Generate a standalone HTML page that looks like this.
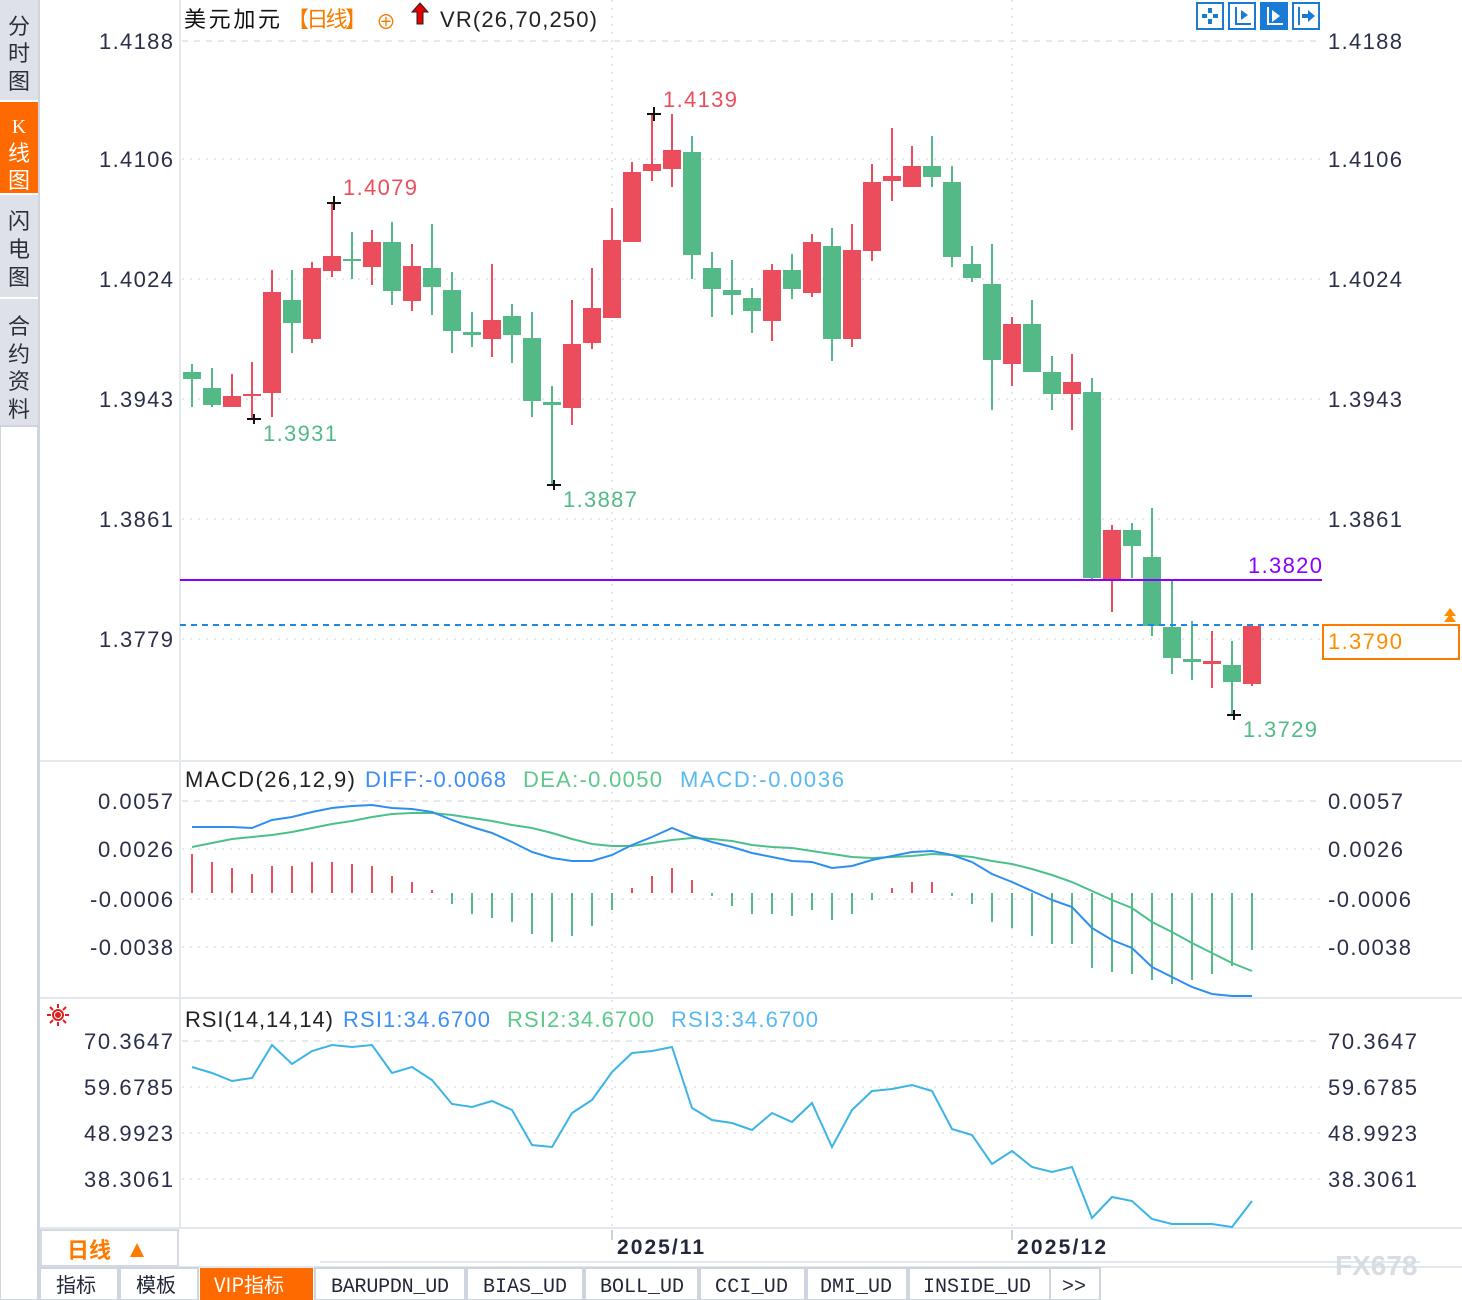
<!DOCTYPE html>
<html><head><meta charset="utf-8">
<style>
html,body{margin:0;padding:0;background:#fff;}
svg{display:block;font-family:"Liberation Sans","Noto Sans CJK SC",sans-serif;}
</style></head>
<body>
<svg id="s" width="1462" height="1300" viewBox="0 0 1462 1300" xmlns="http://www.w3.org/2000/svg">
<rect width="1462" height="1300" fill="#fff"/>
<rect x="0" y="0" width="38" height="1300" fill="#fff"/>
<rect x="0" y="0" width="38" height="100" fill="#dfe1e8"/>
<rect x="0" y="102" width="38" height="91" fill="#ff6a00"/>
<rect x="0" y="195" width="38" height="102" fill="#dfe1e8"/>
<rect x="0" y="299" width="38" height="127" fill="#dfe1e8"/>
<rect x="0" y="426" width="38" height="874" fill="#fff" stroke="#cfd5de" stroke-width="2"/>
<line x1="39" y1="0" x2="39" y2="1300" stroke="#cfd5de" stroke-width="2"/>
<g font-size="22" fill="#2b2f3a" text-anchor="middle" font-family="'Noto Sans CJK SC',sans-serif">
<text x="19" y="34">分</text><text x="19" y="61">时</text><text x="19" y="89">图</text>
<text x="19" y="133" fill="#fff" font-family="'Liberation Serif',serif" font-size="20">K</text><text x="19" y="161" fill="#fff">线</text><text x="19" y="188" fill="#fff">图</text>
<text x="19" y="229">闪</text><text x="19" y="257">电</text><text x="19" y="285">图</text>
<text x="19" y="334">合</text><text x="19" y="362">约</text><text x="19" y="389">资</text><text x="19" y="417">料</text>
</g>
<g stroke="#e3e7ee" stroke-width="2" fill="none">
<line x1="180" y1="0" x2="180" y2="1228"/>
<line x1="40" y1="761" x2="1462" y2="761"/>
<line x1="40" y1="998" x2="1462" y2="998"/>
<line x1="40" y1="1228" x2="1462" y2="1228"/>
<line x1="40" y1="1267" x2="1462" y2="1267"/>
</g>
<g id="grid" stroke="#e6e8ec" stroke-width="2" stroke-dasharray="2,6"></g>
<g id="plot"></g>
<g font-size="22">
<text x="184" y="27" fill="#111" font-family="'Noto Sans CJK SC',sans-serif" textLength="96">美元加元</text>
<text x="287" y="27" fill="#f57c00" font-family="'Noto Sans CJK SC',sans-serif" textLength="80">【日线】</text>
<text x="376" y="29" fill="#f57c00" font-size="20">⊕</text>
<path d="M420 3 L428 12 L423 12 L423 24 L417 24 L417 12 L412 12 Z" fill="#e60000" stroke="#222" stroke-width="1"/>
<text x="440" y="27" fill="#222" textLength="157">VR(26,70,250)</text>
<text x="185" y="787" fill="#222" textLength="170">MACD(26,12,9)</text>
<text x="365" y="787" fill="#3d8ef5" textLength="141">DIFF:-0.0068</text>
<text x="523" y="787" fill="#5cc98a" textLength="139">DEA:-0.0050</text>
<text x="680" y="787" fill="#5ab8f0" textLength="164">MACD:-0.0036</text>
<text x="185" y="1027" fill="#222" textLength="148">RSI(14,14,14)</text>
<text x="343" y="1027" fill="#3d8ef5" textLength="147">RSI1:34.6700</text>
<text x="507" y="1027" fill="#5cc98a" textLength="147">RSI2:34.6700</text>
<text x="671" y="1027" fill="#5ab8f0" textLength="147">RSI3:34.6700</text>
</g>
<g font-size="22" fill="#2b2f4a">
<g text-anchor="end">
<text x="173" y="49" textLength="74">1.4188</text><text x="173" y="167" textLength="74">1.4106</text><text x="173" y="287" textLength="74">1.4024</text>
<text x="173" y="407" textLength="74">1.3943</text><text x="173" y="527" textLength="74">1.3861</text><text x="173" y="647" textLength="74">1.3779</text>
<text x="173" y="809" textLength="75">0.0057</text><text x="173" y="857" textLength="75">0.0026</text><text x="173" y="907" textLength="83">-0.0006</text><text x="173" y="955" textLength="83">-0.0038</text>
<text x="173" y="1049" textLength="89">70.3647</text><text x="173" y="1095" textLength="89">59.6785</text><text x="173" y="1141" textLength="89">48.9923</text><text x="173" y="1187" textLength="89">38.3061</text>
</g>
<text x="1328" y="49" textLength="74">1.4188</text><text x="1328" y="167" textLength="74">1.4106</text><text x="1328" y="287" textLength="74">1.4024</text>
<text x="1328" y="407" textLength="74">1.3943</text><text x="1328" y="527" textLength="74">1.3861</text>
<text x="1328" y="809" textLength="75">0.0057</text><text x="1328" y="857" textLength="75">0.0026</text><text x="1328" y="907" textLength="83">-0.0006</text><text x="1328" y="955" textLength="83">-0.0038</text>
<text x="1328" y="1049" textLength="89">70.3647</text><text x="1328" y="1095" textLength="89">59.6785</text><text x="1328" y="1141" textLength="89">48.9923</text><text x="1328" y="1187" textLength="89">38.3061</text>
</g>
<g font-size="22">
<text x="343" y="195" fill="#eb4d5c" textLength="74">1.4079</text>
<text x="663" y="107" fill="#eb4d5c" textLength="74">1.4139</text>
<text x="263" y="441" fill="#52b987" textLength="74">1.3931</text>
<text x="563" y="507" fill="#52b987" textLength="74">1.3887</text>
<text x="1243" y="737" fill="#52b987" textLength="74">1.3729</text>
<text x="1248" y="573" fill="#8a00ff" textLength="74">1.3820</text>
</g>
<line x1="180" y1="580" x2="1322" y2="580" stroke="#8a00ff" stroke-width="2"/>
<line x1="180" y1="625" x2="1322" y2="625" stroke="#1e88e5" stroke-width="2" stroke-dasharray="6,5"/>
<rect x="1323" y="625" width="136" height="34" fill="#fff" stroke="#ff7a00" stroke-width="2"/>
<text x="1328" y="649" font-size="22" fill="#ff8c00" textLength="74">1.3790</text>
<path d="M1450 608 L1456 616 L1444 616 Z M1450 614 L1456 622 L1444 622 Z" fill="#ff8c00"/>
<g stroke="#111" stroke-width="2">
<line x1="327" y1="203" x2="341" y2="203"/><line x1="334" y1="196" x2="334" y2="210"/>
<line x1="647" y1="114" x2="661" y2="114"/><line x1="654" y1="107" x2="654" y2="121"/>
<line x1="247" y1="419" x2="261" y2="419"/><line x1="254" y1="414" x2="254" y2="424"/>
<line x1="547" y1="485" x2="561" y2="485"/><line x1="554" y1="480" x2="554" y2="490"/>
<line x1="1227" y1="715" x2="1241" y2="715"/><line x1="1234" y1="710" x2="1234" y2="720"/>
</g>
<g stroke="#1a7ad4" stroke-width="2" fill="#fff">
<rect x="1197" y="3" width="26" height="26"/><rect x="1229" y="3" width="26" height="26"/>
<rect x="1261" y="3" width="26" height="26" fill="#1a7ad4"/><rect x="1293" y="3" width="26" height="26"/>
</g>
<g fill="#1a7ad4">
<rect x="1208" y="8" width="4" height="5"/><rect x="1208" y="19" width="4" height="5"/><rect x="1202" y="14" width="5" height="4"/><rect x="1213" y="14" width="5" height="4"/>
<rect x="1235" y="7" width="2" height="18"/><rect x="1235" y="23" width="16" height="2"/><path d="M1241 10 L1248 15 L1241 20 Z"/>
<rect x="1298" y="7" width="2" height="18"/><path d="M1302 14 L1308 14 L1308 10 L1315 16 L1308 22 L1308 18 L1302 18 Z"/>
</g>
<g fill="#fff"><rect x="1267" y="7" width="2" height="18"/><rect x="1267" y="23" width="16" height="2"/><path d="M1272 10 L1280 16 L1272 22 Z"/></g>
<g stroke="#e02020" stroke-width="2" fill="none">
<circle cx="58" cy="1015" r="5"/><circle cx="58" cy="1015" r="2" fill="#e02020"/>
<path d="M58 1004v4M58 1022v4M47 1015h4M65 1015h4M50 1007l3 3M63 1020l3 3M50 1023l3-3M63 1010l3-3"/>
</g>
<rect x="41" y="1230" width="137" height="36" fill="#fff" stroke="#d5dae2" stroke-width="2"/>
<text x="67" y="1258" font-size="22" fill="#ff7a00" font-family="'Noto Sans CJK SC',sans-serif" font-weight="bold">日线</text>
<path d="M130 1257 L137 1243 L144 1257 Z" fill="#ff7a00"/>
<g stroke="#ccd2da" stroke-width="2"><line x1="612" y1="1230" x2="612" y2="1240"/><line x1="1012" y1="1230" x2="1012" y2="1240"/></g>
<text x="617" y="1254" font-size="21" font-weight="bold" fill="#22283a" textLength="87">2025/11</text>
<text x="1017" y="1254" font-size="21" font-weight="bold" fill="#22283a" textLength="89">2025/12</text>
<line x1="320" y1="1262" x2="1420" y2="1262" stroke="#e3e7ee" stroke-width="2"/>
<text x="1335" y="1275" font-size="28" font-weight="bold" fill="#d8dce3">FX678</text>
<g stroke="#cfd5de" stroke-width="2" fill="#fff">
<rect x="40" y="1268" width="78" height="32"/><rect x="120" y="1268" width="78" height="32"/>
<rect x="315" y="1268" width="150" height="32"/><rect x="467" y="1268" width="116" height="32"/>
<rect x="585" y="1268" width="113" height="32"/><rect x="700" y="1268" width="105" height="32"/>
<rect x="807" y="1268" width="100" height="32"/><rect x="909" y="1268" width="141" height="32"/>
<rect x="1050" y="1268" width="50" height="32"/>
</g>
<rect x="200" y="1268" width="113" height="32" fill="#ff6a00"/>
<g font-size="20" fill="#22283a" font-family="'Liberation Mono','Noto Sans CJK SC',monospace">
<text x="56" y="1292" font-family="'Noto Sans CJK SC',sans-serif">指标</text>
<text x="136" y="1292" font-family="'Noto Sans CJK SC',sans-serif">模板</text>
<text x="214" y="1292" fill="#fff" font-family="'Noto Sans CJK SC',sans-serif">VIP指标</text>
<text x="331" y="1292" textLength="118">BARUPDN_UD</text>
<text x="483" y="1292" textLength="84">BIAS_UD</text>
<text x="600" y="1292" textLength="84">BOLL_UD</text>
<text x="715" y="1292" textLength="73">CCI_UD</text>
<text x="820" y="1292" textLength="72">DMI_UD</text>
<text x="923" y="1292" textLength="108">INSIDE_UD</text>
<text x="1062" y="1292">&gt;&gt;</text>
</g>
</svg>
<script>
(function(){
var NS="http://www.w3.org/2000/svg",plot=document.getElementById('plot'),grid=document.getElementById('grid');
function el(t,a,p){var e=document.createElementNS(NS,t);for(var k in a)e.setAttribute(k,a[k]);(p||plot).appendChild(e);return e;}
[41,159,279,399,519,639,801,849,899,947,1041,1087,1133,1179].forEach(function(y,i){
 el('line',{x1:182,y1:y,x2:1322,y2:y,'stroke-dasharray':(y==41||y==801||y==1041)?'6,6':'2,6'},grid);});
[612,1012].forEach(function(x){el('line',{x1:x,y1:0,x2:x,y2:1226},grid);});
var R='#eb4d5c',G='#52b987';
var C=[[364,407,372,379,G],[368,407,388,405,G],[374,407,396,407,R],[362,419,394,396,R],[270,417,292,393,R],[270,353,300,323,G],[262,343,268,339,R],[203,277,256,271,R],[232,279,259,261,G],[230,285,242,267,R],[222,305,242,291,G],[244,311,266,301,R],[224,315,268,287,G],[272,353,290,331,G],[312,347,332,335,G],[264,357,320,339,R],[304,363,316,335,G],[312,417,338,401,G],[386,485,402,405,G],[300,425,344,408,R],[268,349,308,343,R],[208,318,240,318,R],[162,242,172,242,R],[114,181,164,171,R],[114,187,150,169,R],[136,279,152,255,G],[252,317,268,289,G],[260,315,290,295,G],[288,333,298,311,G],[264,341,270,321,R],[254,299,270,289,G],[234,297,242,293,R],[228,361,246,339,G],[224,347,250,339,R],[164,261,182,251,R],[128,201,176,181,R],[146,187,166,187,R],[136,187,166,177,G],[166,267,182,257,G],[246,282,264,278,G],[244,410,284,360,G],[317,386,324,364,R],[300,372,324,372,G],[356,410,372,394,G],[354,430,382,394,R],[378,580,392,578,G],[525,612,530,580,R],[523,578,530,546,G],[508,636,557,626,G],[579,674,627,658,G],[621,680,659,662,G],[631,688,661,664,R],[641,715,665,682,G],[626,686,626,684,R]];
C.forEach(function(c,i){var x=192+20*i;
 el('rect',{x:x-1,y:c[0],width:2,height:c[1]-c[0],fill:c[4]});
 el('rect',{x:x-9,y:c[2],width:18,height:Math.max(2,c[3]-c[2]),fill:c[4]});});
var H=[854,862,868,874,866,866,862,862,864,866,876,882,890,904,914,918,922,934,942,936,926,910,888,876,868,880,896,906,914,914,916,910,920,914,900,888,882,882,896,904,922,928,936,944,944,968,972,974,980,984,980,974,966,950];
H.forEach(function(y,i){var x=192+20*i;var z=893;
 el('rect',{x:x-1,y:Math.min(y,z),width:2,height:Math.max(2,Math.abs(y-z)),fill:y<z?R:G});});
var DIFF=[827,827,827,828,820,817,812,808,806,805,808,809,812,820,827,833,842,852,858,861,861,855,845,837,828,836,842,847,853,857,861,862,868,866,860,856,852,851,855,862,874,882,891,900,907,928,940,948,967,977,987,994,996,996];
var DEA=[847,843,839,837,835,832,828,824,821,817,814,813,813,815,818,821,825,828,833,839,844,846,846,843,840,838,839,841,845,847,848,851,854,857,858,857,856,854,855,857,861,864,869,875,882,891,900,908,922,932,943,953,963,971];
var RSI=[1067,1073,1081,1078,1045,1064,1051,1045,1047,1045,1073,1067,1080,1104,1107,1101,1110,1145,1147,1113,1100,1072,1053,1051,1047,1108,1120,1123,1130,1113,1122,1103,1147,1110,1091,1089,1085,1091,1129,1135,1164,1151,1167,1172,1167,1218,1197,1201,1219,1224,1224,1224,1227,1201];
function line(a,col){el('polyline',{points:a.map(function(y,i){return (192+20*i)+','+y;}).join(' '),fill:'none',stroke:col,'stroke-width':2});}
line(DEA,'#4cc08a');line(DIFF,'#2f8ff0');line(RSI,'#3cb4e6');
})();
</script>
</body></html>
